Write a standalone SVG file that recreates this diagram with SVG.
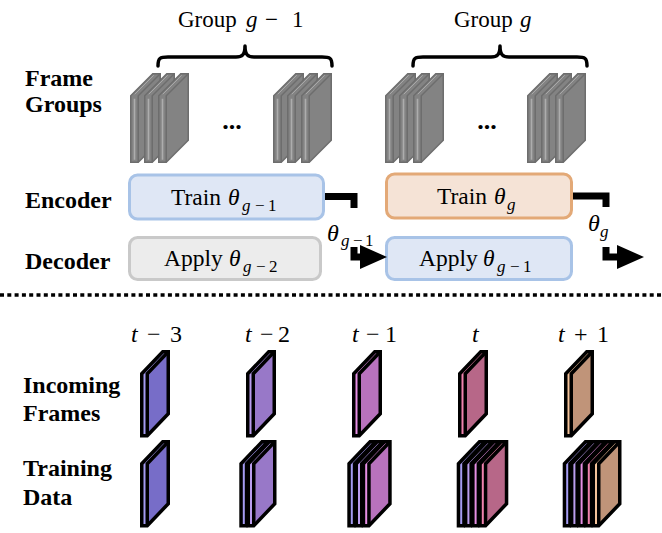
<svg xmlns="http://www.w3.org/2000/svg" xmlns:xlink="http://www.w3.org/1999/xlink" width="662" height="533" viewBox="0 0 662 533">
<style>
text{font-family:"Liberation Serif","Times New Roman",serif;fill:#000}
.lab{font-size:24px;font-weight:bold}
.grp{font-size:23px}
.box{font-size:23.5px}
.sub{font-size:17px}
.it{font-style:italic}
.math{font-size:24px}
.brace{fill:none;stroke:#000;stroke-width:3.5;stroke-linecap:round;stroke-linejoin:round}
.conn{fill:none;stroke:#000;stroke-width:7;stroke-linejoin:miter}
.fr{stroke:#000;stroke-width:3.5;stroke-linejoin:miter}
.a{fill:#a59cf2;color:#776dc8}
.b{fill:#ba9ded;color:#9878c8}
.c{fill:#e68fe4;color:#b872bd}
.d{fill:#f083ae;color:#b76788}
.e{fill:#f4c39a;color:#c09479}
.blue{fill:#dfe7f5;stroke:#a8c3e7;stroke-width:3}
.orange{fill:#f5e3d6;stroke:#e3a977;stroke-width:3}
.grey{fill:#ececec;stroke:#c9c9c9;stroke-width:3}
</style>
<defs>
<g id="gs">
<polygon points="0,0 22,-22 29.5,-22 29.5,44.5 7.5,66.5 0,66.5" fill="#838383" stroke="#6d6d6d" stroke-width="1.5"/>
<path d="M7.5,66.5 V0 L29.5,-22" fill="none" stroke="#6d6d6d" stroke-width="1.5"/>
<path d="M3.75,3 V64" stroke="#adadad" stroke-width="1.6"/>
<path d="M4,-1.5 L23,-20.5" stroke="#a8a8a8" stroke-width="1"/>
</g>
<g id="fr">
<polygon points="0,0 21,-22 26.5,-22 5.5,0 5.5,62 0,62" stroke="none"/>
<polygon points="5.5,0 26.5,-22 26.5,40 5.5,62" fill="currentColor" stroke="none"/>
<polygon points="0,0 21,-22 26.5,-22 26.5,40 5.5,62 0,62" fill="none"/>
<path d="M5.5,62 V0 L26.5,-22" fill="none"/>
</g>
<marker id="ah" viewBox="0 0 27 24" markerWidth="27" markerHeight="24" refX="0" refY="12" orient="auto" markerUnits="userSpaceOnUse">
<path d="M0,0 L27,12 L0,24 z" fill="#000"/>
</marker>
</defs>

<g id="row-labels">
<text class="lab" x="25" y="86">Frame</text>
<text class="lab" x="25" y="112">Groups</text>
<text class="lab" x="25" y="208">Encoder</text>
<text class="lab" x="25" y="269">Decoder</text>
<text class="lab" x="23" y="393">Incoming</text>
<text class="lab" x="23" y="421">Frames</text>
<text class="lab" x="23" y="476">Training</text>
<text class="lab" x="23" y="505">Data</text>
</g>

<g id="group-g-1">
<text class="grp" y="27"><tspan x="178">Group</tspan><tspan class="it" x="246">g</tspan><tspan x="265">−</tspan><tspan x="292">1</tspan></text>
<path class="brace" d="M158,66 C158,58 160,57 168,57 H236 C242,57 245,55 245,46 C245,55 248,57 254,57 H322 C330,57 332,58 332,66"/>
<use xlink:href="#gs" href="#gs" transform="translate(130.75,95.75)"/>
<use xlink:href="#gs" href="#gs" transform="translate(144.75,95.75)"/>
<use xlink:href="#gs" href="#gs" transform="translate(158.75,95.75)"/>
<text x="232" y="129" text-anchor="middle" font-size="26" font-weight="bold">...</text>
<use xlink:href="#gs" href="#gs" transform="translate(273.75,95.75)"/>
<use xlink:href="#gs" href="#gs" transform="translate(287.75,95.75)"/>
<use xlink:href="#gs" href="#gs" transform="translate(301.75,95.75)"/>
</g>

<g id="group-g">
<text class="grp" y="27"><tspan x="454">Group</tspan><tspan class="it" x="520">g</tspan></text>
<path class="brace" d="M413,66 C413,58 415,57 423,57 H491 C497,57 500,55 500,46 C500,55 503,57 509,57 H577 C585,57 587,58 587,66"/>
<use xlink:href="#gs" href="#gs" transform="translate(385.75,95.75)"/>
<use xlink:href="#gs" href="#gs" transform="translate(399.75,95.75)"/>
<use xlink:href="#gs" href="#gs" transform="translate(413.75,95.75)"/>
<text x="487" y="129" text-anchor="middle" font-size="26" font-weight="bold">...</text>
<use xlink:href="#gs" href="#gs" transform="translate(527.75,95.75)"/>
<use xlink:href="#gs" href="#gs" transform="translate(541.75,95.75)"/>
<use xlink:href="#gs" href="#gs" transform="translate(555.75,95.75)"/>
</g>

<g id="encoder-g-1">
<rect class="blue" x="129.5" y="175" width="194" height="44" rx="8"/>
<text class="box"><tspan x="171" y="205">Train</tspan><tspan class="it" x="228" y="205">θ</tspan><tspan class="sub it" x="242" y="211">g</tspan><tspan class="sub" x="255" y="211">−</tspan><tspan class="sub" x="268" y="211">1</tspan></text>
</g>
<g id="decoder-g-1">
<rect class="grey" x="129.5" y="237.5" width="191" height="42" rx="8"/>
<text class="box"><tspan x="164" y="266">Apply</tspan><tspan class="it" x="229" y="266">θ</tspan><tspan class="sub it" x="243" y="272">g</tspan><tspan class="sub" x="256" y="272">−</tspan><tspan class="sub" x="269" y="272">2</tspan></text>
</g>
<g id="encoder-g">
<rect class="orange" x="386.5" y="174" width="185" height="44" rx="8"/>
<text class="box"><tspan x="437" y="204">Train</tspan><tspan class="it" x="494" y="204">θ</tspan><tspan class="sub it" x="507" y="210">g</tspan></text>
</g>
<g id="decoder-g">
<rect class="blue" x="386.5" y="237.5" width="185" height="42" rx="8"/>
<text class="box"><tspan x="419" y="266">Apply</tspan><tspan class="it" x="483" y="266">θ</tspan><tspan class="sub it" x="497" y="272">g</tspan><tspan class="sub" x="510" y="272">−</tspan><tspan class="sub" x="523" y="272">1</tspan></text>
</g>

<g id="connectors">
<path class="conn" d="M325,196.5 H354 V208 M354,247 V257 H360" marker-end="url(#ah)"/>
<text class="math"><tspan class="it" x="327" y="241">θ</tspan><tspan class="sub it" x="341" y="246">g</tspan><tspan class="sub" x="353" y="246">−</tspan><tspan class="sub" x="365" y="246">1</tspan></text>
<path class="conn" d="M573,196 H606 V207 M606,247 V257 H617" marker-end="url(#ah)"/>
<text class="math"><tspan class="it" x="588" y="231">θ</tspan><tspan class="sub it" x="600" y="237">g</tspan></text>
</g>

<line id="separator" x1="0" y1="295" x2="662" y2="295" stroke="#000" stroke-width="3.5" stroke-dasharray="4 3.3"/>

<g id="time-labels" class="math">
<text><tspan class="it" x="131" y="342">t</tspan><tspan x="147" y="342">−</tspan><tspan x="170" y="342">3</tspan></text>
<text><tspan class="it" x="245" y="342">t</tspan><tspan x="260" y="342">−</tspan><tspan x="278" y="342">2</tspan></text>
<text><tspan class="it" x="352" y="342">t</tspan><tspan x="366" y="342">−</tspan><tspan x="385" y="342">1</tspan></text>
<text><tspan class="it" x="472" y="342">t</tspan></text>
<text><tspan class="it" x="558" y="342">t</tspan><tspan x="574" y="342">+</tspan><tspan x="597" y="342">1</tspan></text>
</g>

<g id="incoming-frames" class="fr">
<use xlink:href="#fr" href="#fr" class="a" transform="translate(141.75,373.75)"/>
<use xlink:href="#fr" href="#fr" class="b" transform="translate(247.75,373.75)"/>
<use xlink:href="#fr" href="#fr" class="c" transform="translate(353.75,373.75)"/>
<use xlink:href="#fr" href="#fr" class="d" transform="translate(459.75,373.75)"/>
<use xlink:href="#fr" href="#fr" class="e" transform="translate(565.75,373.75)"/>
</g>

<g id="training-data" class="fr">
<use xlink:href="#fr" href="#fr" class="a" transform="translate(141.75,463.75)"/>

<use xlink:href="#fr" href="#fr" class="a" transform="translate(241.05,463.75)"/>
<use xlink:href="#fr" href="#fr" class="b" transform="translate(248.25,463.75)"/>

<use xlink:href="#fr" href="#fr" class="a" transform="translate(349.05,463.75)"/>
<use xlink:href="#fr" href="#fr" class="b" transform="translate(356.25,463.75)"/>
<use xlink:href="#fr" href="#fr" class="c" transform="translate(363.45,463.75)"/>

<use xlink:href="#fr" href="#fr" class="a" transform="translate(458.45,463.75)"/>
<use xlink:href="#fr" href="#fr" class="b" transform="translate(465.65,463.75)"/>
<use xlink:href="#fr" href="#fr" class="c" transform="translate(472.85,463.75)"/>
<use xlink:href="#fr" href="#fr" class="d" transform="translate(480.05,463.75)"/>

<use xlink:href="#fr" href="#fr" class="a" transform="translate(564.45,463.75)"/>
<use xlink:href="#fr" href="#fr" class="b" transform="translate(571.65,463.75)"/>
<use xlink:href="#fr" href="#fr" class="c" transform="translate(578.85,463.75)"/>
<use xlink:href="#fr" href="#fr" class="d" transform="translate(586.05,463.75)"/>
<use xlink:href="#fr" href="#fr" class="e" transform="translate(593.25,463.75)"/>
</g>
</svg>
